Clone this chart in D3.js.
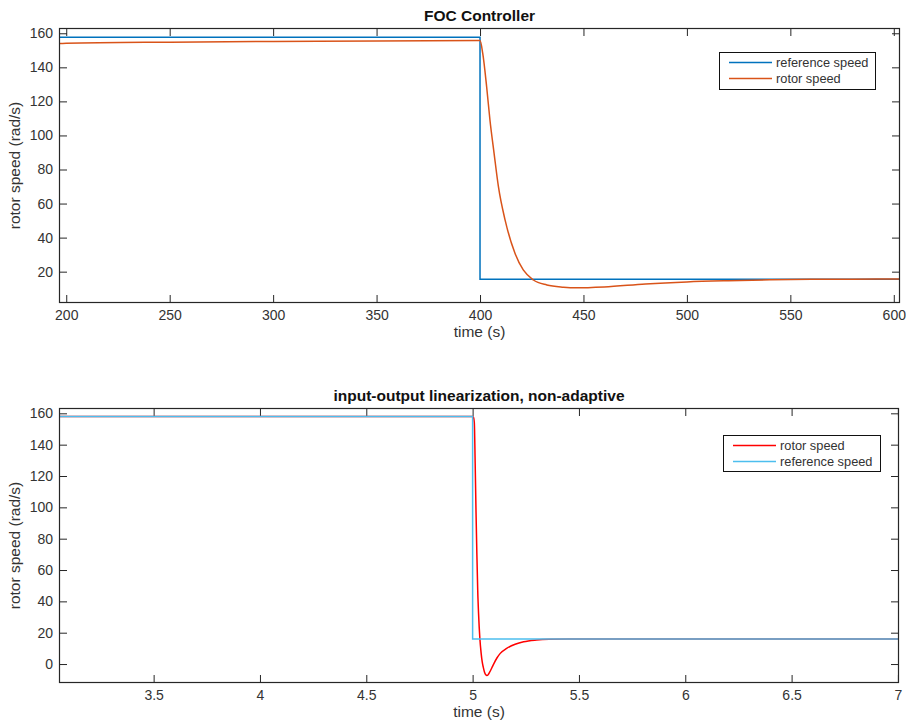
<!DOCTYPE html>
<html>
<head>
<meta charset="utf-8">
<script src="https://cdn.jsdelivr.net/npm/d3@7"></script>
<style>
  body { margin: 0; background: #fff; }
  svg { display: block; }
  text { font-family: "Liberation Sans", Arial, Helvetica, sans-serif; fill: #333; }
</style>
</head>
<body>
<svg id="chart" width="906" height="724"></svg>
<script>
// ---- FOC controller run ----
const focTime  = [196.5, 200, 250, 300, 350, 400, 401.3, 403.2, 404.8, 406.8, 408.9, 412.1, 416.9, 420.9, 425.8, 432.3, 440.3, 446, 460, 480, 500, 520, 540, 560, 580, 603];
const focRotor = [154.0, 154.1, 154.8, 155.2, 155.5, 155.7, 148.3, 128.6, 109.1, 89.5, 69.9, 50.4, 30.8, 21.0, 15.1, 12.2, 10.9, 10.5, 11.0, 12.8, 14.0, 14.7, 15.2, 15.5, 15.6, 15.7];
const focRefTime = [196.5, 400, 603];
const focRef     = [157.6, 15.6, 15.6];
const focXTicks = [200, 250, 300, 350, 400, 450, 500, 550, 600];
const focYTicks = [20, 40, 60, 80, 100, 120, 140, 160];

// ---- input-output linearization, non-adaptive run ----
const iolTime  = [3.055, 5.0, 5.004, 5.008, 5.012, 5.016, 5.020, 5.024, 5.028, 5.034, 5.040, 5.045, 5.050, 5.056, 5.062, 5.067, 5.073, 5.080, 5.090, 5.100, 5.115, 5.130, 5.160, 5.200, 5.240, 5.300, 5.360, 5.450, 5.600, 7.005];
const iolRotor = [158, 158, 157.5, 154, 128, 97, 70, 47, 32, 16.5, 7, 1.5, -2, -5.2, -6.9, -7.3, -6.8, -5.2, -2.5, 0.3, 4, 6.8, 10, 12.6, 14.2, 15.3, 15.8, 16, 16, 16];
const iolRefTime = [3.055, 5.0, 7.005];
const iolRef     = [158, 16, 16];
const iolXTicks = [3.5, 4, 4.5, 5, 5.5, 6, 6.5, 7];
const iolYTicks = [0, 20, 40, 60, 80, 100, 120, 140, 160];

const svg = d3.select("#chart");
const axisColor = "#262626";
const tickLen = 8;

function zip(xs, ys) { return xs.map((x, i) => [x, ys[i]]); }

function drawPanel(p) {
  const g = svg.append("g");
  const x = d3.scaleLinear().domain(p.xDomain).range([p.left, p.right]);
  const y = d3.scaleLinear().domain(p.yDomain).range([p.bottom, p.top]);

  const clipId = "clip-" + p.id;
  svg.append("clipPath").attr("id", clipId)
    .append("rect")
    .attr("x", p.left).attr("y", p.top)
    .attr("width", p.right - p.left).attr("height", p.bottom - p.top);

  // axes with inward ticks on all four sides
  const styleAxis = sel => {
    sel.select(".domain").remove();
    sel.selectAll(".tick line").attr("stroke", axisColor);
    sel.selectAll(".tick text").attr("fill", "#333")
      .style("font-size", "14px").style("font-family", '"Liberation Sans", Arial, sans-serif');
  };
  g.append("g").attr("transform", `translate(0,${p.bottom})`)
    .call(d3.axisBottom(x).tickValues(p.xTicks).tickFormat(d3.format("~g"))
      .tickSizeInner(-tickLen).tickSizeOuter(0).tickPadding(7))
    .call(styleAxis);
  g.append("g").attr("transform", `translate(0,${p.top})`)
    .call(d3.axisTop(x).tickValues(p.xTicks).tickFormat("")
      .tickSizeInner(-tickLen).tickSizeOuter(0))
    .call(styleAxis);
  g.append("g").attr("transform", `translate(${p.left},0)`)
    .call(d3.axisLeft(y).tickValues(p.yTicks).tickFormat(d3.format("~g"))
      .tickSizeInner(-tickLen).tickSizeOuter(0).tickPadding(6))
    .call(styleAxis);
  g.append("g").attr("transform", `translate(${p.right},0)`)
    .call(d3.axisRight(y).tickValues(p.yTicks).tickFormat("")
      .tickSizeInner(-tickLen).tickSizeOuter(0))
    .call(styleAxis);

  // series
  const plot = g.append("g").attr("clip-path", `url(#${clipId})`);
  p.series.forEach(s => {
    const line = d3.line()
      .x(d => x(d[0])).y(d => y(d[1]))
      .curve(s.step ? d3.curveStepAfter : d3.curveMonotoneX);
    plot.append("path")
      .datum(zip(s.xs, s.ys))
      .attr("fill", "none")
      .attr("stroke", s.color)
      .attr("stroke-width", 1.5)
      .attr("d", line);
  });

  // axes box
  g.append("rect")
    .attr("x", p.left + 0.5).attr("y", p.top + 0.5)
    .attr("width", p.right - p.left - 1).attr("height", p.bottom - p.top - 1)
    .attr("fill", "none").attr("stroke", axisColor).attr("stroke-width", 1.2);

  // title and axis labels
  g.append("text")
    .attr("x", (p.left + p.right) / 2).attr("y", p.top - 7.5)
    .attr("text-anchor", "middle")
    .style("font-size", "15.5px").style("font-weight", "bold").style("fill", "#111")
    .text(p.title);
  g.append("text")
    .attr("x", (p.left + p.right) / 2).attr("y", p.bottom + 34)
    .attr("text-anchor", "middle").style("font-size", "15.5px")
    .text("time (s)");
  g.append("text")
    .attr("transform", `translate(19.5,${(p.top + p.bottom) / 2}) rotate(-90)`)
    .attr("text-anchor", "middle").style("font-size", "15.5px")
    .text("rotor speed (rad/s)");

  // legend
  const L = p.legend;
  const lg = g.append("g");
  lg.append("rect")
    .attr("x", L.x + 0.5).attr("y", L.y + 0.5)
    .attr("width", L.w).attr("height", L.h)
    .attr("fill", "#fff").attr("stroke", "#111").attr("stroke-width", 1);
  L.items.forEach((it, i) => {
    const yy = L.y + 10.5 + i * 16;
    lg.append("line")
      .attr("x1", L.x + 10).attr("x2", L.x + 53)
      .attr("y1", yy).attr("y2", yy)
      .attr("stroke", it.color).attr("stroke-width", 1.5);
    lg.append("text")
      .attr("x", L.x + 57).attr("y", yy + 4.5)
      .style("font-size", "12.8px")
      .text(it.label);
  });
}

drawPanel({
  id: "foc",
  title: "FOC Controller",
  left: 59, right: 900, top: 28, bottom: 303,
  xDomain: [196.5, 603], yDomain: [1.6, 163.1],
  xTicks: focXTicks, yTicks: focYTicks,
  series: [
    { xs: focRefTime, ys: focRef, color: "#0072BD", step: true },
    { xs: focTime, ys: focRotor, color: "#D95319" }
  ],
  legend: {
    x: 719, y: 52, w: 156, h: 37,
    items: [
      { label: "reference speed", color: "#0072BD" },
      { label: "rotor speed", color: "#D95319" }
    ]
  }
});

drawPanel({
  id: "iol",
  title: "input-output linearization, non-adaptive",
  left: 59, right: 899, top: 408, bottom: 683,
  xDomain: [3.055, 7.005], yDomain: [-12.1, 163.4],
  xTicks: iolXTicks, yTicks: iolYTicks,
  series: [
    { xs: iolTime, ys: iolRotor, color: "#FF0000" },
    { xs: iolRefTime, ys: iolRef, color: "#4DBEEE", step: true }
  ],
  legend: {
    x: 723, y: 435, w: 157, h: 36,
    items: [
      { label: "rotor speed", color: "#FF0000" },
      { label: "reference speed", color: "#4DBEEE" }
    ]
  }
});
</script>
</body>
</html>
